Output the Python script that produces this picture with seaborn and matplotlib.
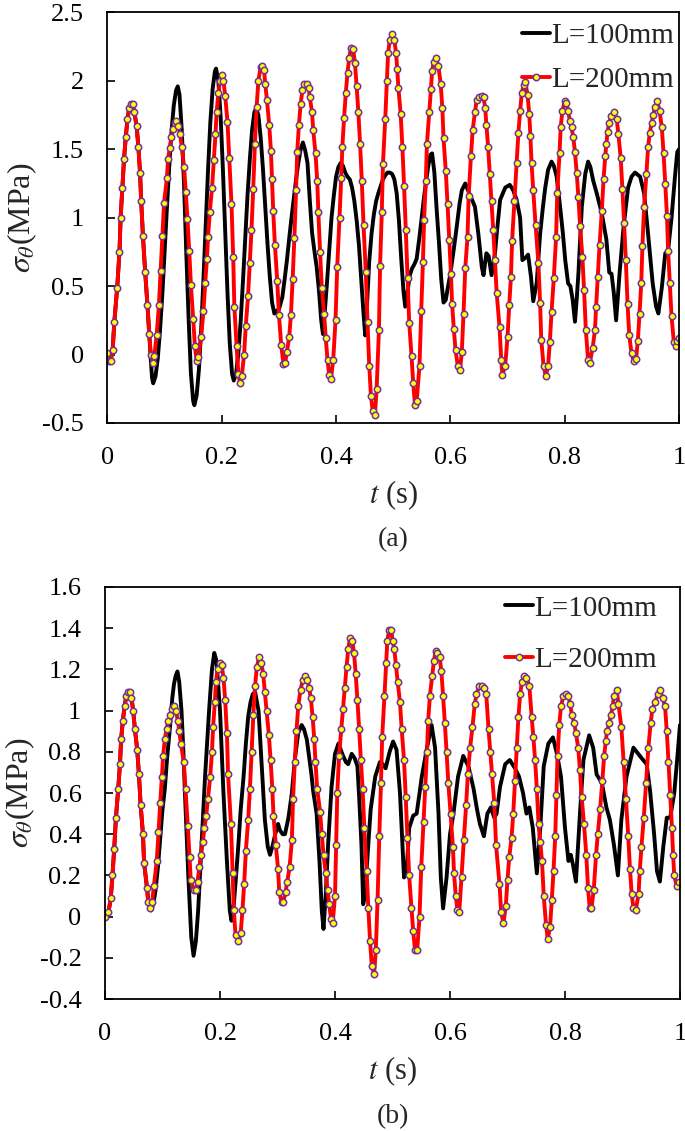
# Esfuerzo tangencial sigma_theta vs tiempo, L=100mm y L=200mm, paneles (a) y (b)
import pandas as pd
import matplotlib
matplotlib.use("Agg")
import matplotlib.pyplot as plt
import seaborn as sns

sns.set_theme(style="white")
plt.rcParams['font.family'] = ['Liberation Serif', 'DejaVu Serif']
plt.rcParams['mathtext.fontset'] = 'stix'

# ---------------- datos (t [s], sigma [MPa]) ----------------
a_200 = [
    (0.000, 0.01), (0.002, -0.05), (0.006, -0.05), (0.009, 0.03), (0.012, 0.24), (0.017, 0.49),
    (0.021, 0.75), (0.023, 1.00), (0.026, 1.22), (0.029, 1.43), (0.032, 1.59), (0.035, 1.72),
    (0.038, 1.80), (0.041, 1.83), (0.044, 1.83), (0.047, 1.77), (0.051, 1.67), (0.054, 1.52),
    (0.057, 1.33), (0.059, 1.12), (0.062, 0.87), (0.066, 0.60), (0.070, 0.36), (0.073, 0.15),
    (0.076, 0.00), (0.079, -0.06), (0.082, -0.01), (0.086, 0.14), (0.090, 0.36), (0.093, 0.61),
    (0.096, 0.87), (0.099, 1.11), (0.104, 1.29), (0.106, 1.43), (0.109, 1.51), (0.112, 1.59),
    (0.115, 1.65), (0.118, 1.69), (0.120, 1.71), (0.124, 1.67), (0.127, 1.61), (0.130, 1.52),
    (0.134, 1.37), (0.137, 1.19), (0.140, 0.99), (0.143, 0.76), (0.146, 0.51), (0.150, 0.26),
    (0.153, 0.06), (0.156, -0.05), (0.159, -0.02), (0.164, 0.13), (0.168, 0.32), (0.171, 0.52),
    (0.174, 0.70), (0.176, 0.86), (0.179, 1.04), (0.183, 1.22), (0.186, 1.42), (0.189, 1.61),
    (0.191, 1.77), (0.194, 1.91), (0.197, 2.00), (0.200, 2.04), (0.203, 2.00), (0.206, 1.89),
    (0.210, 1.70), (0.213, 1.44), (0.217, 1.10), (0.220, 0.71), (0.222, 0.35), (0.226, 0.06),
    (0.229, -0.14), (0.232, -0.21), (0.235, -0.16), (0.239, 0.00), (0.242, 0.21), (0.246, 0.43),
    (0.249, 0.67), (0.252, 0.91), (0.255, 1.21), (0.258, 1.54), (0.261, 1.81), (0.264, 2.00),
    (0.268, 2.10), (0.271, 2.11), (0.274, 2.08), (0.276, 1.98), (0.279, 1.86), (0.283, 1.68),
    (0.286, 1.49), (0.288, 1.28), (0.290, 1.05), (0.293, 0.80), (0.297, 0.54), (0.300, 0.29),
    (0.304, 0.07), (0.308, -0.07), (0.311, -0.06), (0.314, 0.02), (0.318, 0.13), (0.321, 0.29),
    (0.324, 0.55), (0.327, 0.85), (0.330, 1.20), (0.332, 1.48), (0.335, 1.68), (0.338, 1.83),
    (0.341, 1.93), (0.344, 1.98), (0.349, 1.98), (0.352, 1.95), (0.354, 1.88), (0.358, 1.77),
    (0.360, 1.64), (0.364, 1.47), (0.367, 1.27), (0.369, 1.04), (0.372, 0.75), (0.375, 0.49),
    (0.379, 0.30), (0.382, 0.12), (0.385, -0.04), (0.388, -0.15), (0.391, -0.18), (0.395, -0.04),
    (0.399, 0.25), (0.402, 0.64), (0.406, 1.00), (0.409, 1.29), (0.411, 1.52), (0.414, 1.73),
    (0.417, 1.91), (0.420, 2.06), (0.423, 2.17), (0.426, 2.24), (0.430, 2.23), (0.433, 2.13),
    (0.436, 1.96), (0.439, 1.77), (0.442, 1.54), (0.445, 1.27), (0.448, 0.95), (0.452, 0.60),
    (0.455, 0.24), (0.458, -0.08), (0.461, -0.30), (0.464, -0.41), (0.468, -0.44), (0.471, -0.25),
    (0.475, 0.18), (0.477, 0.65), (0.480, 1.04), (0.482, 1.39), (0.486, 1.72), (0.489, 2.00),
    (0.491, 2.20), (0.494, 2.30), (0.498, 2.34), (0.502, 2.30), (0.505, 2.20), (0.507, 2.09),
    (0.509, 1.95), (0.513, 1.76), (0.516, 1.52), (0.519, 1.23), (0.522, 0.91), (0.525, 0.56),
    (0.528, 0.23), (0.532, -0.01), (0.535, -0.21), (0.538, -0.37), (0.541, -0.34), (0.546, -0.08),
    (0.549, 0.32), (0.552, 0.68), (0.554, 0.98), (0.557, 1.27), (0.559, 1.54), (0.563, 1.77),
    (0.566, 1.94), (0.568, 2.07), (0.571, 2.14), (0.575, 2.17), (0.579, 2.11), (0.583, 1.98),
    (0.586, 1.80), (0.588, 1.58), (0.592, 1.34), (0.595, 1.10), (0.598, 0.84), (0.601, 0.59),
    (0.603, 0.37), (0.606, 0.19), (0.609, 0.03), (0.613, -0.08), (0.617, -0.11), (0.620, 0.02),
    (0.623, 0.30), (0.626, 0.63), (0.630, 0.86), (0.632, 1.16), (0.636, 1.45), (0.639, 1.64),
    (0.643, 1.77), (0.646, 1.86), (0.650, 1.88), (0.655, 1.89), (0.658, 1.88), (0.661, 1.80),
    (0.663, 1.68), (0.666, 1.52), (0.669, 1.32), (0.672, 1.12), (0.675, 0.91), (0.678, 0.69),
    (0.681, 0.45), (0.686, 0.20), (0.689, -0.04), (0.691, -0.15), (0.696, -0.08), (0.700, 0.13),
    (0.703, 0.36), (0.706, 0.57), (0.708, 0.83), (0.712, 1.12), (0.716, 1.40), (0.719, 1.62),
    (0.722, 1.78), (0.725, 1.91), (0.728, 1.97), (0.731, 1.99), (0.735, 1.90), (0.738, 1.76),
    (0.740, 1.60), (0.742, 1.40), (0.745, 1.20), (0.749, 0.95), (0.754, 0.67), (0.757, 0.38),
    (0.759, 0.11), (0.763, -0.08), (0.767, -0.16), (0.771, -0.08), (0.774, 0.09), (0.777, 0.31),
    (0.781, 0.56), (0.785, 0.86), (0.787, 1.18), (0.791, 1.47), (0.793, 1.66), (0.796, 1.78),
    (0.800, 1.85), (0.803, 1.84), (0.806, 1.78), (0.809, 1.71), (0.812, 1.66), (0.815, 1.59),
    (0.818, 1.48), (0.821, 1.33), (0.824, 1.15), (0.827, 0.94), (0.831, 0.71), (0.834, 0.47),
    (0.837, 0.18), (0.841, -0.04), (0.844, -0.06), (0.849, 0.05), (0.853, 0.18), (0.855, 0.35),
    (0.858, 0.57), (0.861, 0.80), (0.865, 1.05), (0.868, 1.28), (0.871, 1.45), (0.873, 1.54),
    (0.875, 1.63), (0.878, 1.69), (0.881, 1.74), (0.886, 1.77), (0.891, 1.72), (0.894, 1.61),
    (0.898, 1.44), (0.901, 1.21), (0.904, 0.96), (0.907, 0.69), (0.910, 0.37), (0.913, 0.14),
    (0.917, 0.01), (0.921, -0.05), (0.925, -0.03), (0.928, 0.10), (0.931, 0.30), (0.934, 0.52),
    (0.936, 0.79), (0.939, 1.08), (0.943, 1.32), (0.946, 1.52), (0.949, 1.62), (0.952, 1.69),
    (0.955, 1.75), (0.958, 1.81), (0.962, 1.85), (0.966, 1.78), (0.970, 1.66), (0.973, 1.47),
    (0.976, 1.25), (0.979, 1.01), (0.981, 0.76), (0.984, 0.52), (0.987, 0.28), (0.991, 0.09),
    (0.994, 0.06), (0.997, 0.10), (1.000, 0.12),
]

a_100 = [
    (0.000, 0.01), (0.004, -0.05), (0.009, 0.03), (0.012, 0.24), (0.017, 0.49), (0.021, 0.75),
    (0.023, 1.00), (0.026, 1.22), (0.029, 1.43), (0.032, 1.59), (0.035, 1.72), (0.038, 1.80),
    (0.041, 1.83), (0.044, 1.83), (0.047, 1.77), (0.051, 1.67), (0.054, 1.52), (0.057, 1.33),
    (0.059, 1.12), (0.062, 0.87), (0.066, 0.60), (0.070, 0.36), (0.073, 0.15), (0.076, -0.05),
    (0.078, -0.17), (0.080, -0.21), (0.084, -0.16), (0.088, -0.03), (0.092, 0.18), (0.096, 0.44),
    (0.100, 0.76), (0.104, 1.07), (0.108, 1.37), (0.112, 1.63), (0.116, 1.82), (0.120, 1.93),
    (0.123, 1.96), (0.126, 1.90), (0.130, 1.64), (0.134, 1.24), (0.138, 0.73), (0.142, 0.26),
    (0.146, -0.14), (0.150, -0.34), (0.152, -0.37), (0.156, -0.30), (0.160, -0.11), (0.164, 0.19),
    (0.168, 0.56), (0.172, 0.96), (0.176, 1.35), (0.180, 1.70), (0.184, 1.94), (0.188, 2.07),
    (0.190, 2.09), (0.194, 2.00), (0.198, 1.74), (0.202, 1.35), (0.206, 0.89), (0.210, 0.45),
    (0.214, 0.08), (0.218, -0.14), (0.221, -0.19), (0.225, -0.14), (0.229, 0.01), (0.233, 0.24),
    (0.237, 0.53), (0.241, 0.84), (0.245, 1.16), (0.249, 1.42), (0.253, 1.64), (0.257, 1.77),
    (0.260, 1.80), (0.264, 1.75), (0.268, 1.59), (0.272, 1.36), (0.276, 1.08), (0.280, 0.81),
    (0.284, 0.57), (0.288, 0.38), (0.292, 0.30), (0.296, 0.32), (0.300, 0.33), (0.302, 0.36),
    (0.306, 0.42), (0.310, 0.55), (0.314, 0.69), (0.318, 0.85), (0.322, 1.00), (0.326, 1.14),
    (0.330, 1.28), (0.334, 1.40), (0.338, 1.50), (0.342, 1.55), (0.346, 1.49), (0.350, 1.40),
    (0.354, 1.13), (0.358, 0.89), (0.362, 0.76), (0.366, 0.64), (0.370, 0.47), (0.374, 0.25),
    (0.377, 0.15), (0.380, 0.30), (0.384, 0.52), (0.388, 0.76), (0.392, 1.00), (0.396, 1.16),
    (0.400, 1.30), (0.404, 1.37), (0.408, 1.40), (0.412, 1.38), (0.416, 1.33), (0.420, 1.30),
    (0.424, 1.28), (0.428, 1.22), (0.432, 1.12), (0.436, 0.98), (0.440, 0.80), (0.444, 0.55),
    (0.448, 0.30), (0.451, 0.14), (0.454, 0.35), (0.458, 0.68), (0.462, 0.88), (0.466, 1.02),
    (0.470, 1.12), (0.474, 1.18), (0.478, 1.23), (0.482, 1.28), (0.486, 1.31), (0.490, 1.33),
    (0.494, 1.33), (0.498, 1.32), (0.502, 1.28), (0.506, 1.18), (0.510, 0.98), (0.514, 0.70),
    (0.518, 0.46), (0.521, 0.35), (0.525, 0.46), (0.529, 0.58), (0.533, 0.63), (0.537, 0.66),
    (0.541, 0.70), (0.545, 0.83), (0.549, 0.97), (0.553, 1.12), (0.557, 1.25), (0.561, 1.37),
    (0.565, 1.46), (0.568, 1.47), (0.572, 1.33), (0.576, 1.06), (0.580, 0.82), (0.584, 0.55),
    (0.588, 0.38), (0.592, 0.40), (0.596, 0.50), (0.600, 0.59), (0.605, 0.74), (0.611, 0.93),
    (0.616, 1.10), (0.620, 1.20), (0.626, 1.25), (0.634, 1.17), (0.643, 1.08), (0.649, 0.88),
    (0.655, 0.64), (0.658, 0.58), (0.663, 0.74), (0.667, 0.72), (0.672, 0.58), (0.678, 0.74),
    (0.682, 0.92), (0.687, 1.13), (0.696, 1.22), (0.704, 1.24), (0.710, 1.20), (0.716, 1.13),
    (0.722, 1.00), (0.726, 0.69), (0.732, 0.71), (0.736, 0.73), (0.741, 0.57), (0.745, 0.39),
    (0.751, 0.52), (0.757, 0.88), (0.762, 1.08), (0.766, 1.22), (0.771, 1.35), (0.777, 1.41),
    (0.781, 1.38), (0.786, 1.30), (0.792, 1.08), (0.797, 0.88), (0.801, 0.69), (0.806, 0.52),
    (0.810, 0.50), (0.814, 0.40), (0.818, 0.24), (0.821, 0.40), (0.824, 0.59), (0.830, 1.08),
    (0.836, 1.32), (0.841, 1.41), (0.845, 1.37), (0.850, 1.27), (0.856, 1.18), (0.865, 1.03),
    (0.873, 0.84), (0.878, 0.60), (0.882, 0.59), (0.886, 0.45), (0.890, 0.25), (0.893, 0.42),
    (0.896, 0.59), (0.903, 0.93), (0.911, 1.22), (0.917, 1.30), (0.923, 1.33), (0.932, 1.30),
    (0.939, 1.18), (0.946, 0.88), (0.954, 0.52), (0.960, 0.35), (0.964, 0.30), (0.970, 0.49),
    (0.976, 0.74), (0.981, 0.76), (0.987, 1.00), (0.993, 1.30), (0.997, 1.48), (1.000, 1.50),
]

b_200 = [
    (0.000, 0.00), (0.006, 0.02), (0.010, 0.09), (0.013, 0.20), (0.016, 0.33), (0.019, 0.48),
    (0.023, 0.62), (0.026, 0.74), (0.028, 0.86), (0.031, 0.95), (0.034, 1.02), (0.037, 1.07),
    (0.040, 1.09), (0.043, 1.09), (0.046, 1.06), (0.049, 1.00), (0.052, 0.91), (0.056, 0.81),
    (0.059, 0.69), (0.062, 0.54), (0.066, 0.40), (0.068, 0.26), (0.073, 0.14), (0.075, 0.07),
    (0.078, 0.04), (0.082, 0.07), (0.085, 0.15), (0.090, 0.27), (0.093, 0.41), (0.096, 0.55),
    (0.099, 0.68), (0.101, 0.78), (0.104, 0.86), (0.107, 0.91), (0.110, 0.95), (0.113, 0.98),
    (0.116, 1.01), (0.120, 1.02), (0.123, 1.00), (0.127, 0.95), (0.129, 0.90), (0.132, 0.84),
    (0.137, 0.75), (0.140, 0.62), (0.144, 0.44), (0.147, 0.29), (0.149, 0.18), (0.154, 0.13),
    (0.158, 0.13), (0.161, 0.17), (0.164, 0.24), (0.167, 0.30), (0.170, 0.36), (0.173, 0.43),
    (0.176, 0.49), (0.179, 0.57), (0.183, 0.68), (0.186, 0.80), (0.188, 0.92), (0.191, 1.04),
    (0.193, 1.14), (0.196, 1.20), (0.200, 1.23), (0.203, 1.22), (0.206, 1.16), (0.209, 1.05),
    (0.212, 0.89), (0.214, 0.69), (0.219, 0.45), (0.222, 0.21), (0.224, 0.03), (0.227, -0.09),
    (0.232, -0.12), (0.236, -0.08), (0.239, 0.03), (0.242, 0.16), (0.245, 0.32), (0.249, 0.47),
    (0.252, 0.62), (0.255, 0.80), (0.258, 0.98), (0.261, 1.12), (0.264, 1.21), (0.268, 1.26),
    (0.272, 1.23), (0.275, 1.18), (0.278, 1.09), (0.281, 1.00), (0.285, 0.88), (0.288, 0.76),
    (0.291, 0.62), (0.293, 0.49), (0.297, 0.35), (0.301, 0.23), (0.303, 0.12), (0.307, 0.07),
    (0.310, 0.07), (0.314, 0.12), (0.317, 0.17), (0.321, 0.24), (0.325, 0.37), (0.327, 0.57),
    (0.330, 0.75), (0.333, 0.90), (0.336, 1.02), (0.340, 1.10), (0.344, 1.15), (0.348, 1.17),
    (0.352, 1.15), (0.355, 1.11), (0.358, 1.06), (0.361, 0.97), (0.364, 0.86), (0.366, 0.75),
    (0.369, 0.62), (0.374, 0.51), (0.377, 0.40), (0.380, 0.30), (0.384, 0.21), (0.387, 0.13),
    (0.390, 0.06), (0.393, -0.01), (0.396, -0.03), (0.400, 0.10), (0.402, 0.35), (0.404, 0.60),
    (0.407, 0.78), (0.411, 0.91), (0.414, 1.01), (0.417, 1.11), (0.420, 1.21), (0.423, 1.30),
    (0.426, 1.35), (0.430, 1.34), (0.433, 1.28), (0.436, 1.18), (0.439, 1.05), (0.442, 0.91),
    (0.445, 0.76), (0.448, 0.62), (0.451, 0.43), (0.455, 0.22), (0.458, 0.04), (0.461, -0.12),
    (0.464, -0.24), (0.468, -0.28), (0.471, -0.16), (0.474, 0.08), (0.477, 0.39), (0.480, 0.65),
    (0.482, 0.87), (0.486, 1.07), (0.489, 1.23), (0.491, 1.34), (0.494, 1.39), (0.498, 1.39),
    (0.500, 1.34), (0.503, 1.30), (0.506, 1.22), (0.509, 1.14), (0.513, 1.04), (0.516, 0.91),
    (0.520, 0.76), (0.523, 0.58), (0.526, 0.38), (0.529, 0.20), (0.533, 0.04), (0.536, -0.07),
    (0.539, -0.16), (0.543, -0.16), (0.547, 0.00), (0.550, 0.24), (0.554, 0.46), (0.557, 0.63),
    (0.560, 0.80), (0.562, 0.95), (0.565, 1.07), (0.569, 1.17), (0.572, 1.24), (0.575, 1.29),
    (0.578, 1.28), (0.582, 1.26), (0.585, 1.19), (0.588, 1.07), (0.591, 0.94), (0.594, 0.80),
    (0.597, 0.65), (0.601, 0.50), (0.605, 0.34), (0.607, 0.21), (0.610, 0.10), (0.613, 0.03),
    (0.616, 0.02), (0.620, 0.19), (0.624, 0.37), (0.628, 0.54), (0.631, 0.69), (0.635, 0.82),
    (0.639, 0.92), (0.643, 1.03), (0.646, 1.08), (0.651, 1.12), (0.655, 1.12), (0.659, 1.11),
    (0.663, 1.08), (0.667, 0.91), (0.670, 0.80), (0.673, 0.69), (0.677, 0.55), (0.680, 0.35),
    (0.686, 0.16), (0.689, 0.02), (0.693, -0.03), (0.697, 0.05), (0.700, 0.18), (0.703, 0.29),
    (0.707, 0.38), (0.710, 0.50), (0.713, 0.66), (0.716, 0.82), (0.719, 0.97), (0.722, 1.08),
    (0.725, 1.14), (0.729, 1.17), (0.733, 1.16), (0.738, 1.12), (0.742, 0.97), (0.745, 0.87),
    (0.748, 0.76), (0.751, 0.62), (0.754, 0.45), (0.757, 0.36), (0.760, 0.27), (0.763, 0.10),
    (0.767, -0.04), (0.770, -0.11), (0.774, -0.05), (0.777, 0.08), (0.780, 0.22), (0.783, 0.39),
    (0.785, 0.59), (0.787, 0.78), (0.790, 0.93), (0.793, 1.02), (0.797, 1.07), (0.802, 1.08),
    (0.806, 1.07), (0.809, 1.03), (0.812, 0.98), (0.816, 0.94), (0.819, 0.89), (0.823, 0.82),
    (0.826, 0.71), (0.829, 0.58), (0.833, 0.45), (0.837, 0.30), (0.840, 0.14), (0.843, 0.04),
    (0.846, 0.04), (0.850, 0.13), (0.854, 0.30), (0.857, 0.40), (0.861, 0.52), (0.865, 0.66),
    (0.868, 0.78), (0.871, 0.85), (0.873, 0.90), (0.877, 0.94), (0.880, 0.98), (0.883, 1.02),
    (0.885, 1.07), (0.890, 1.10), (0.893, 1.03), (0.898, 0.92), (0.902, 0.75), (0.906, 0.57),
    (0.910, 0.39), (0.913, 0.23), (0.916, 0.11), (0.919, 0.04), (0.923, 0.03), (0.928, 0.11),
    (0.930, 0.22), (0.933, 0.34), (0.937, 0.48), (0.941, 0.65), (0.945, 0.82), (0.949, 0.94),
    (0.952, 1.01), (0.957, 1.04), (0.961, 1.08), (0.965, 1.10), (0.970, 1.06), (0.974, 1.02),
    (0.977, 0.90), (0.980, 0.75), (0.983, 0.59), (0.986, 0.43), (0.988, 0.30), (0.990, 0.20),
    (0.994, 0.15), (0.998, 0.17),
]

b_100 = [
    (0.000, 0.00), (0.006, 0.02), (0.010, 0.09), (0.013, 0.20), (0.016, 0.33), (0.019, 0.48),
    (0.023, 0.62), (0.026, 0.74), (0.028, 0.86), (0.031, 0.95), (0.034, 1.02), (0.037, 1.07),
    (0.040, 1.09), (0.043, 1.09), (0.046, 1.06), (0.049, 1.00), (0.052, 0.91), (0.056, 0.81),
    (0.059, 0.69), (0.062, 0.54), (0.066, 0.40), (0.068, 0.26), (0.073, 0.14), (0.076, 0.06),
    (0.080, 0.03), (0.084, 0.06), (0.088, 0.13), (0.092, 0.24), (0.096, 0.38), (0.100, 0.52),
    (0.104, 0.62), (0.108, 0.77), (0.113, 0.92), (0.117, 1.06), (0.120, 1.13), (0.123, 1.17),
    (0.126, 1.19), (0.129, 1.14), (0.133, 1.00), (0.136, 0.82), (0.139, 0.60), (0.142, 0.40),
    (0.145, 0.19), (0.150, -0.10), (0.154, -0.19), (0.158, -0.12), (0.162, 0.03), (0.168, 0.35),
    (0.174, 0.68), (0.181, 1.00), (0.186, 1.20), (0.190, 1.28), (0.194, 1.24), (0.200, 1.00),
    (0.206, 0.60), (0.212, 0.27), (0.217, 0.03), (0.220, -0.02), (0.224, 0.06), (0.228, 0.20),
    (0.232, 0.35), (0.236, 0.52), (0.241, 0.68), (0.245, 0.84), (0.249, 0.97), (0.253, 1.04),
    (0.257, 1.08), (0.261, 1.09), (0.267, 1.00), (0.272, 0.76), (0.278, 0.47), (0.283, 0.34),
    (0.287, 0.30), (0.292, 0.35), (0.296, 0.40), (0.301, 0.45), (0.304, 0.42), (0.309, 0.40),
    (0.313, 0.40), (0.319, 0.48), (0.325, 0.60), (0.330, 0.76), (0.336, 0.89), (0.342, 0.93),
    (0.346, 0.91), (0.351, 0.86), (0.359, 0.69), (0.362, 0.61), (0.368, 0.50), (0.373, 0.27),
    (0.377, 0.03), (0.380, -0.06), (0.384, 0.11), (0.388, 0.35), (0.394, 0.63), (0.400, 0.79),
    (0.406, 0.84), (0.410, 0.81), (0.414, 0.78), (0.419, 0.75), (0.423, 0.74), (0.429, 0.79),
    (0.434, 0.77), (0.439, 0.73), (0.442, 0.58), (0.446, 0.35), (0.449, 0.06), (0.452, 0.10),
    (0.456, 0.27), (0.462, 0.52), (0.470, 0.68), (0.478, 0.75), (0.483, 0.74), (0.488, 0.72),
    (0.495, 0.80), (0.501, 0.85), (0.507, 0.81), (0.513, 0.60), (0.518, 0.30), (0.520, 0.19),
    (0.525, 0.24), (0.529, 0.43), (0.536, 0.49), (0.542, 0.50), (0.551, 0.68), (0.560, 0.82),
    (0.568, 0.93), (0.574, 0.82), (0.580, 0.50), (0.584, 0.19), (0.588, 0.04), (0.594, 0.19),
    (0.600, 0.40), (0.606, 0.50), (0.614, 0.68), (0.623, 0.78), (0.632, 0.73), (0.641, 0.62),
    (0.647, 0.52), (0.652, 0.45), (0.659, 0.39), (0.665, 0.50), (0.671, 0.53), (0.677, 0.48),
    (0.681, 0.50), (0.687, 0.63), (0.696, 0.74), (0.704, 0.76), (0.713, 0.72), (0.720, 0.68),
    (0.727, 0.60), (0.733, 0.50), (0.738, 0.53), (0.744, 0.43), (0.751, 0.21), (0.757, 0.43),
    (0.763, 0.73), (0.771, 0.84), (0.779, 0.87), (0.786, 0.79), (0.793, 0.68), (0.800, 0.43),
    (0.806, 0.27), (0.810, 0.30), (0.814, 0.25), (0.819, 0.17), (0.826, 0.50), (0.832, 0.76),
    (0.842, 0.88), (0.849, 0.82), (0.855, 0.69), (0.864, 0.65), (0.872, 0.53), (0.878, 0.47),
    (0.885, 0.35), (0.892, 0.20), (0.898, 0.47), (0.907, 0.68), (0.919, 0.82), (0.933, 0.77),
    (0.942, 0.74), (0.948, 0.61), (0.955, 0.40), (0.960, 0.22), (0.965, 0.17), (0.971, 0.34),
    (0.977, 0.48), (0.983, 0.48), (0.990, 0.60), (0.995, 0.76), (1.000, 0.93),
]

x_ticks = [0, 0.2, 0.4, 0.6, 0.8, 1.0]
x_labels = ['0', '0.2', '0.4', '0.6', '0.8', '1']
ya_ticks = [-0.5, 0, 0.5, 1, 1.5, 2, 2.5]
ya_labels = ['-0.5', '0', '0.5', '1', '1.5', '2', '2.5']
yb_ticks = [-0.4, -0.2, 0, 0.2, 0.4, 0.6, 0.8, 1.0, 1.2, 1.4, 1.6]
yb_labels = ['-0.4', '-0.2', '0', '0.2', '0.4', '0.6', '0.8', '1', '1.2', '1.4', '1.6']
etiquetas = ['L=100mm', 'L=200mm']

fs = 19


def panel(ax, d100, d200, yticks, ylabels, letra, leg_anchor, leg_space):
    df100 = pd.DataFrame(d100, columns=['t', 's'])
    df200 = pd.DataFrame(d200, columns=['t', 's'])
    sns.lineplot(data=df100, x='t', y='s', ax=ax, color='black', lw=2.8,
                 estimator=None, sort=False, label=etiquetas[0])
    sns.lineplot(data=df200, x='t', y='s', ax=ax, color='#ff0000', lw=2.8,
                 marker='o', markersize=4.6, markerfacecolor='#ffff00',
                 markeredgecolor='#7030a0', markeredgewidth=1.1,
                 estimator=None, sort=False, label=etiquetas[1])
    ax.set_xlim(0, 1)
    ax.set_ylim(yticks[0], yticks[-1])
    ax.set_xticks(x_ticks)
    ax.set_xticklabels(x_labels)
    ax.set_yticks(yticks)
    ax.set_yticklabels(ylabels)
    ax.tick_params(direction='in', length=6, width=1.2, labelsize=fs, pad=17,
                   bottom=True, left=True, top=False, right=False, colors='black')
    for sp in ax.spines.values():
        sp.set_color('black')
        sp.set_linewidth(1.3)
    ax.set_xlabel(r'$t$ (s)', fontsize=fs + 3, labelpad=7)
    ax.set_ylabel(r'$\sigma_\theta$(MPa)', fontsize=fs + 4, labelpad=2)
    ax.text(0.5, -0.285, letra, transform=ax.transAxes, ha='center', va='center', fontsize=fs + 1)
    ax.legend(loc='upper right', bbox_to_anchor=leg_anchor, frameon=False, fontsize=fs + 2,
              handlelength=0.95, handletextpad=0.05, labelspacing=leg_space,
              borderpad=0, borderaxespad=0)
    ax.grid(False)


fig = plt.figure(figsize=(6.85, 11.31), dpi=100)
ax1 = fig.add_axes([0.1569, 0.626, 0.8343, 0.363])
ax2 = fig.add_axes([0.1533, 0.1167, 0.8394, 0.3643])

panel(ax1, a_100, a_200, ya_ticks, ya_labels, '(a)', (0.992, 0.975), 0.6)
panel(ax2, b_100, b_200, yb_ticks, yb_labels, '(b)', (0.96, 0.98), 0.85)

fig.savefig('out.png', dpi=100)
